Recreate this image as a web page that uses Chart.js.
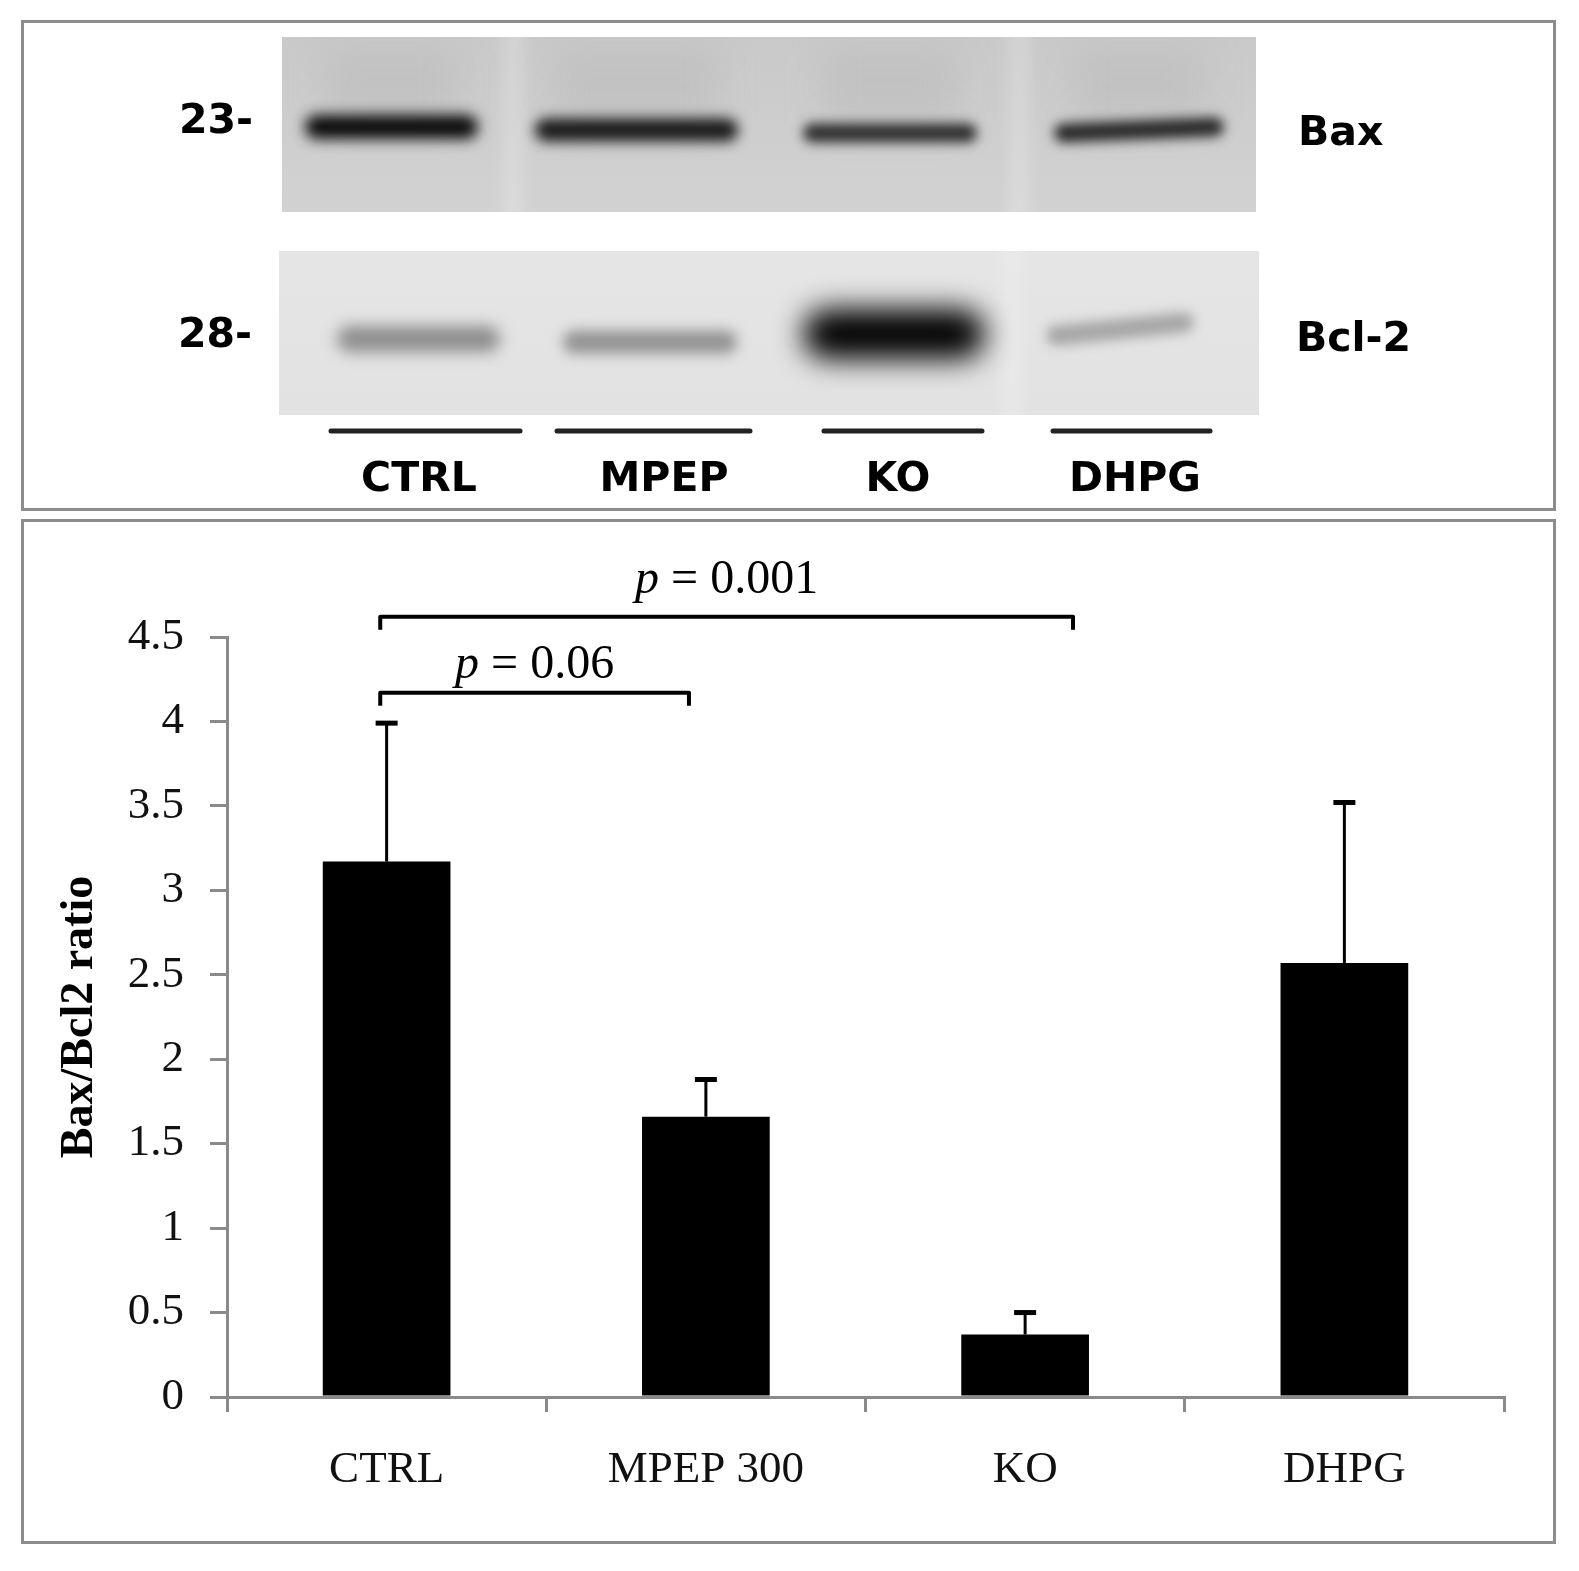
<!DOCTYPE html>
<html>
<head>
<meta charset="utf-8">
<script src="https://cdn.jsdelivr.net/npm/chart.js@4.4.1/dist/chart.umd.min.js"></script>
<style>
  html, body { margin: 0; padding: 0; background: #fff; width: 1579px; height: 1571px; overflow: hidden; }
  .panel { position: absolute; box-sizing: border-box; border: 3px solid #8c8c8c; }
  .lbl { position: absolute; font-family: 'DejaVu Sans', sans-serif; font-weight: bold; font-size: 41px; line-height: 41px; color: #000; white-space: nowrap; }
  #blot { position: absolute; left: 0; top: 0; }
  #chartBox { position: absolute; left: 25px; top: 524px; width: 1527px; height: 1015px; }
</style>
</head>
<body>
<div class="panel" style="left:21px;top:20px;width:1535px;height:491px;"></div>
<div class="panel" style="left:21px;top:519px;width:1535px;height:1025px;"></div>
<canvas id="blot" width="1579" height="515"></canvas>

<div class="lbl" style="right:1326px;top:99px;">23-</div>
<div class="lbl" style="right:1327px;top:313px;">28-</div>
<div class="lbl" style="left:1298px;top:111px;">Bax</div>
<div class="lbl" style="left:1296px;top:317px;">Bcl-2</div>
<div id="laneLabels"></div>

<div id="chartBox"><canvas id="myChart"></canvas></div>

<script>
// ---- bar chart data
var categories = ['CTRL', 'MPEP 300', 'KO', 'DHPG']
var ratioMeans = [3.17, 1.66, 0.37, 2.57]
var ratioErrors = [0.82, 0.22, 0.13, 0.95]
var yTickLabels = ['0', '0.5', '1', '1.5', '2', '2.5', '3', '3.5', '4', '4.5']

// significance brackets (ends as category positions, heights in axis units)
var brackets = [
    {from: -0.02, to: 0.947, y: 4.17, labelY: 4.26, p: '0.06'},
    {from: -0.02, to: 2.15, y: 4.62, labelY: 4.76, p: '0.001'}
]

// ---- western blot picture (not chart data, just the photo above)
var laneNames = ['CTRL', 'MPEP', 'KO', 'DHPG']
var laneCenters = [419, 664, 898, 1135]
var laneLines = [[331, 520], [557, 750], [824, 982], [1053, 1210]]

var baxBands = [
    {x1: 305, x2: 478, y: 127, h: 24, tilt: 0, c: '#0a0a0a'},
    {x1: 535, x2: 738, y: 130, h: 23, tilt: 0, c: '#1a1a1a'},
    {x1: 803, x2: 977, y: 133, h: 19, tilt: 0, c: '#2e2e2e'},
    {x1: 1054, x2: 1224, y: 130, h: 19, tilt: -7, c: '#282828'}
]
var bclBands = [
    {x1: 337, x2: 500, y: 339, h: 26, tilt: 0, c: '#8e8e8e'},
    {x1: 563, x2: 737, y: 342, h: 23, tilt: 0, c: '#939393'},
    {x1: 803, x2: 985, y: 334, h: 50, tilt: 0, c: '#000000'},
    {x1: 1046, x2: 1194, y: 329, h: 20, tilt: -15, c: '#a6a6a6'}
]

function drawBlot(){
    var cv = document.getElementById('blot')
    var ctx = cv.getContext('2d')

    function panel(x, y, w, h, bgTop, bgBottom, bands, seps, haze){
        ctx.save()
        ctx.beginPath()
        ctx.rect(x, y, w, h)
        ctx.clip()
        var g = ctx.createLinearGradient(0, y, 0, y + h)
        g.addColorStop(0, bgTop)
        g.addColorStop(1, bgBottom)
        ctx.fillStyle = g
        ctx.fillRect(x, y, w, h)
        if(haze){
            ctx.filter = 'blur(18px)'
            ctx.fillStyle = haze
            bands.forEach(b => { ctx.fillRect(b.x1 + 20, y + 15, b.x2 - b.x1 - 40, b.y - y - 25) })
        }
        ctx.filter = 'blur(8px)'
        ctx.fillStyle = 'rgba(255,255,255,0.22)'
        seps.forEach(s => { ctx.fillRect(s - 10, y - 20, 20, h + 40) })
        bands.forEach(b => {
            ctx.save()
            ctx.filter = 'blur(' + Math.max(6, b.h / 3.5) + 'px)'
            var cx = (b.x1 + b.x2) / 2
            ctx.translate(cx, b.y)
            ctx.rotate(Math.atan2(b.tilt, b.x2 - b.x1))
            ctx.fillStyle = b.c
            ctx.beginPath()
            ctx.roundRect(-(b.x2 - b.x1) / 2, -b.h / 2, b.x2 - b.x1, b.h, b.h / 2)
            ctx.fill()
            ctx.restore()
        })
        ctx.restore()
    }

    panel(282, 37, 974, 175, '#c9c9c9', '#d2d2d2', baxBands, [513, 1019], 'rgba(160,160,160,0.22)')
    panel(279, 251, 980, 164, '#e5e5e5', '#e2e2e2', bclBands, [1012], null)

    ctx.strokeStyle = '#222'
    ctx.lineWidth = 5
    ctx.lineCap = 'round'
    laneLines.forEach(l => {
        ctx.beginPath()
        ctx.moveTo(l[0], 431)
        ctx.lineTo(l[1], 431)
        ctx.stroke()
    })

    var holder = document.getElementById('laneLabels')
    laneNames.forEach((n, i) => {
        var d = document.createElement('div')
        d.className = 'lbl'
        d.textContent = n
        d.style.left = laneCenters[i] + 'px'
        d.style.top = '457px'
        d.style.transform = 'translateX(-50%)'
        holder.appendChild(d)
    })
}
drawBlot()

// ---- chart plugins
var errorBars = {
    id: 'errorBars',
    afterDatasetsDraw(chart){
        var ctx = chart.ctx
        var y = chart.scales.y
        var meta = chart.getDatasetMeta(0)
        ctx.save()
        ctx.strokeStyle = '#000'
        meta.data.forEach((bar, i) => {
            var top = y.getPixelForValue(ratioMeans[i] + ratioErrors[i])
            ctx.lineWidth = 3
            ctx.beginPath()
            ctx.moveTo(bar.x, bar.y)
            ctx.lineTo(bar.x, top)
            ctx.stroke()
            ctx.lineWidth = 5
            ctx.beginPath()
            ctx.moveTo(bar.x - 11, top)
            ctx.lineTo(bar.x + 11, top)
            ctx.stroke()
        })
        ctx.restore()
    }
}

var sigBrackets = {
    id: 'sigBrackets',
    afterDraw(chart){
        var ctx = chart.ctx
        var x = chart.scales.x
        var y = chart.scales.y
        var x0 = x.getPixelForValue(0)
        var step = x.getPixelForValue(1) - x0
        ctx.save()
        ctx.strokeStyle = '#000'
        ctx.lineWidth = 4
        ctx.lineJoin = 'round'
        brackets.forEach(b => {
            var xa = x0 + b.from * step
            var xb = x0 + b.to * step
            var yy = y.getPixelForValue(b.y)
            ctx.beginPath()
            ctx.moveTo(xa, yy + 13)
            ctx.lineTo(xa, yy)
            ctx.lineTo(xb, yy)
            ctx.lineTo(xb, yy + 13)
            ctx.stroke()

            var base = y.getPixelForValue(b.labelY)
            ctx.fillStyle = '#000'
            ctx.textBaseline = 'alphabetic'
            ctx.font = 'italic 48px "Liberation Serif"'
            var wp = ctx.measureText('p').width
            ctx.font = '48px "Liberation Serif"'
            var rest = ' = ' + b.p
            var wr = ctx.measureText(rest).width
            var start = (xa + xb) / 2 - (wp + wr) / 2
            ctx.font = 'italic 48px "Liberation Serif"'
            ctx.fillText('p', start, base)
            ctx.font = '48px "Liberation Serif"'
            ctx.fillText(rest, start + wp, base)
        })
        ctx.restore()
    }
}

Chart.defaults.font.family = '"Liberation Serif", serif'
Chart.defaults.color = '#111'

var axisGray = '#8a8a8a'
var ctxC = document.getElementById('myChart')

var myChart = new Chart(ctxC, {
    type: 'bar',
    data: {
        labels: categories,
        datasets: [{
            data: ratioMeans,
            backgroundColor: '#000',
            borderWidth: 0,
            barPercentage: 0.4,
            categoryPercentage: 1
        }]
    },
    options: {
        responsive: true,
        maintainAspectRatio: false,
        animation: false,
        layout: { padding: { top: 113, right: 48, left: 0, bottom: 0 } },
        plugins: {
            legend: { display: false },
            tooltip: { enabled: false }
        },
        scales: {
            x: {
                offset: true,
                grid: { offset: true, drawOnChartArea: false, drawTicks: true, tickLength: 15, color: axisGray, lineWidth: 3 },
                border: { display: true, color: axisGray, width: 3 },
                ticks: { font: { size: 45 }, color: '#111', padding: 31, maxRotation: 0 },
                afterFit: s => { s.height = 142 }
            },
            y: {
                min: 0,
                max: 4.5,
                grid: { drawOnChartArea: false, drawTicks: true, tickLength: 17, color: axisGray, lineWidth: 3 },
                border: { display: true, color: axisGray, width: 3 },
                ticks: {
                    stepSize: 0.5,
                    font: { size: 45 },
                    color: '#111',
                    padding: 26,
                    callback: (v, i) => yTickLabels[i]
                },
                title: {
                    display: true,
                    text: 'Bax/Bcl2 ratio',
                    color: '#000',
                    font: { size: 46, weight: 'bold' },
                    padding: { top: 28, bottom: 0 }
                },
                afterFit: s => { s.width = 202 }
            }
        }
    },
    plugins: [errorBars, sigBrackets]
});
</script>
</body>
</html>
